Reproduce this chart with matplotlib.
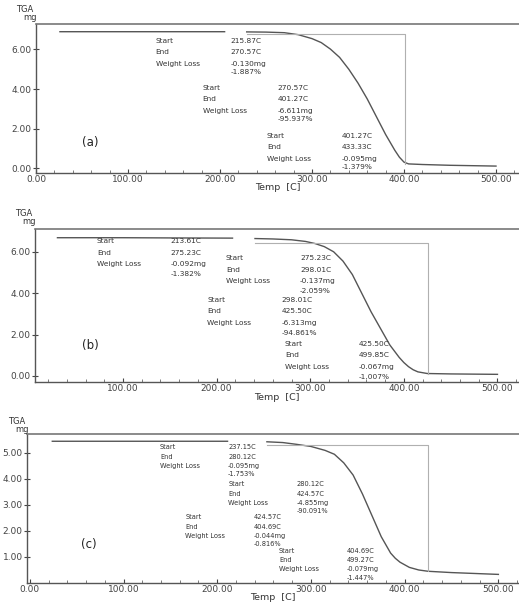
import matplotlib.pyplot as plt
import numpy as np
from matplotlib.ticker import MultipleLocator, FormatStrFormatter

nan = np.nan

# curva (a): temperatura [C] e massa [mg]
a_temp = [26, 100, 150, 205, nan, 229, 250, 270, 285, 300, 310, 320, 330, 340, 350, 360, 370,
          380, 385, 390, 395, 400, 405, 420, 450, 500]
a_mass = [6.9, 6.9, 6.9, 6.9, nan, 6.89, 6.88, 6.85, 6.75, 6.55, 6.35, 6.02, 5.6, 5.0, 4.3, 3.5, 2.6,
          1.7, 1.3, 0.9, 0.55, 0.3, 0.21, 0.18, 0.14, 0.1]
# curva (b)
b_temp = [30, 100, 150, 217, nan, 241, 260, 280, 295, 305, 315, 325, 335, 345, 355, 365, 375,
          385, 395, 400, 405, 410, 415, 425, 450, 500]
b_mass = [6.68, 6.68, 6.67, 6.66, nan, 6.64, 6.62, 6.58, 6.5, 6.4, 6.25, 6.0, 5.55, 4.9, 4.0, 3.1, 2.3,
          1.5, 0.9, 0.65, 0.45, 0.3, 0.2, 0.12, 0.1, 0.08]
# curva (c)
c_temp = [24, 100, 150, 211, nan, 253, 270, 285, 300, 315, 325, 335, 345, 355, 365, 375,
          385, 390, 395, 405, 415, 425, 450, 500]
c_mass = [5.45, 5.45, 5.45, 5.45, nan, 5.43, 5.4, 5.33, 5.25, 5.1, 4.95, 4.62, 4.15, 3.42, 2.6, 1.78,
          1.15, 0.95, 0.8, 0.6, 0.5, 0.45, 0.4, 0.33]

# caixa cinza: inicio, fim, nivel superior, nivel inferior
a_box = [229, 401.27, 6.8, 0.22]
b_box = [241, 425.5, 6.44, 0.12]
c_box = [253, 424.57, 5.3, 0.45]

# textos das etapas
a_start = ['215.87C', '270.57C', '401.27C']
a_end = ['270.57C', '401.27C', '433.33C']
a_loss_mg = ['-0.130mg', '-6.611mg', '-0.095mg']
a_loss_pct = ['-1.887%', '-95.937%', '-1.379%']

b_start = ['213.61C', '275.23C', '298.01C', '425.50C']
b_end = ['275.23C', '298.01C', '425.50C', '499.85C']
b_loss_mg = ['-0.092mg', '-0.137mg', '-6.313mg', '-0.067mg']
b_loss_pct = ['-1.382%', '-2.059%', '-94.861%', '-1.007%']

c_start = ['237.15C', '280.12C', '424.57C', '404.69C']
c_end = ['280.12C', '424.57C', '404.69C', '499.27C']
c_loss_mg = ['-0.095mg', '-4.855mg', '-0.044mg', '-0.079mg']
c_loss_pct = ['-1.753%', '-90.091%', '-0.816%', '-1.447%']

# posicao dos blocos de texto (em coordenadas de dados)
a_blk_x = [130, 181, 251]
a_blk_y = [6.43, 4.05, 1.62]
b_blk_x = [72, 210, 190, 273]
b_blk_y = [6.5, 5.69, 3.67, 1.55]
c_blk_x = [139, 212, 166, 266]
c_blk_y = [5.22, 3.8, 2.53, 1.23]

PX = 0.72  # pontos por pixel em dpi 100
TXT = '#333333'


def painel(fig, rect, temp, mass, box, blocos, linhas_px, col_px, fs, tag, tagpos,
           xlim, ylim, yticks, xticks, tga_xy, temp_y):
    ax = fig.add_axes(rect)
    ax.plot(temp, mass, color='#555555', lw=1.0)
    x0, x1, ytop, ybot = box
    ax.plot([x0, x1, x1], [ytop, ytop, ybot], color='#b0b0b0', lw=0.8)

    for lx, ly, s, e, mg, pct in blocos:
        rotulos = ['Start', 'End', 'Weight Loss', '']
        valores = [s, e, mg, pct]
        for i in range(4):
            dy = -linhas_px[i] * PX
            if rotulos[i]:
                ax.annotate(rotulos[i], (lx, ly), xytext=(0, dy), textcoords='offset points',
                            fontsize=fs, color=TXT, va='center', ha='left')
            ax.annotate(valores[i], (lx, ly), xytext=(col_px * PX, dy), textcoords='offset points',
                        fontsize=fs, color=TXT, va='center', ha='left')

    ax.text(tagpos[0], tagpos[1], tag, fontsize=8.5, color='#222222', va='center', ha='left')

    ax.set_xlim(*xlim)
    ax.set_ylim(*ylim)
    ax.set_xticks(xticks)
    ax.set_yticks(yticks)
    ax.xaxis.set_minor_locator(MultipleLocator(20))
    ax.xaxis.set_major_formatter(FormatStrFormatter('%.2f'))
    ax.yaxis.set_major_formatter(FormatStrFormatter('%.2f'))
    ax.tick_params(axis='x', direction='in', length=3, width=0.8, labelsize=6.5,
                   colors='#444444', pad=1.5)
    ax.tick_params(axis='x', which='minor', direction='in', length=2, width=0.6, colors='#666666')
    ax.tick_params(axis='y', direction='inout', length=4, width=0.8, labelsize=6.5,
                   colors='#444444', pad=1)
    for lado in ['left', 'bottom']:
        ax.spines[lado].set_color('#555555')
        ax.spines[lado].set_linewidth(1.0)
    ax.spines['top'].set_color('#777777')
    ax.spines['top'].set_linewidth(1.2)
    ax.spines['right'].set_visible(False)

    W, H = 519.0, 603.0
    fig.text(tga_xy[0] / W, 1 - tga_xy[1] / H, 'TGA', fontsize=6, color='#333333',
             ha='center', va='center')
    fig.text((tga_xy[0] + 5) / W, 1 - (tga_xy[1] + 9) / H, 'mg', fontsize=6, color='#333333',
             ha='center', va='center')
    fig.text((rect[0] * W + (W - rect[0] * W) / 2) / W, 1 - temp_y / H, 'Temp  [C]',
             fontsize=6.8, color='#333333', ha='center', va='center')
    return ax


fig = plt.figure(figsize=(5.19, 6.03), dpi=100)

painel(fig, [0.0694, 0.7131, 0.9306, 0.2471], a_temp, a_mass, a_box,
       list(zip(a_blk_x, a_blk_y, a_start, a_end, a_loss_mg, a_loss_pct)),
       [0, 11, 23, 31], 75, 5.3, '(a)', (50, 1.27),
       (0, 525), (-0.25, 7.29), [0, 2, 4, 6], [0, 100, 200, 300, 400, 500], (25, 9), 188)

painel(fig, [0.0674, 0.3665, 0.9326, 0.2537], b_temp, b_mass, b_box,
       list(zip(b_blk_x, b_blk_y, b_start, b_end, b_loss_mg, b_loss_pct)),
       [0, 11.4, 22.7, 32.7], 74, 5.3, '(b)', (56, 1.46),
       (6, 523), (-0.29, 7.1), [0, 2, 4, 6], [100, 200, 300, 400, 500], (24, 213), 397)

painel(fig, [0.052, 0.0332, 0.948, 0.2471], c_temp, c_mass, c_box,
       list(zip(c_blk_x, c_blk_y, c_start, c_end, c_loss_mg, c_loss_pct)),
       [0, 9.4, 18.4, 26.7], 68, 4.8, '(c)', (55, 1.49),
       (-3, 522), (0, 5.73), [1, 2, 3, 4, 5], [0, 100, 200, 300, 400, 500], (17, 421), 597)

fig.savefig('out.png', dpi=100)
